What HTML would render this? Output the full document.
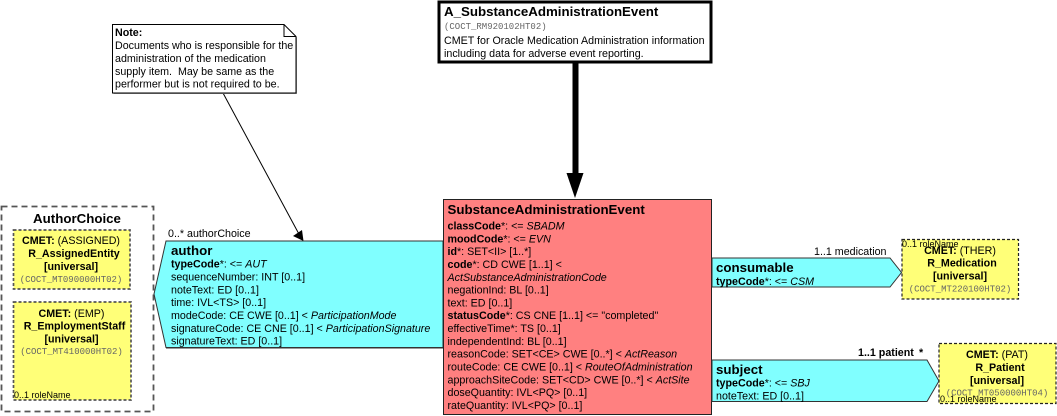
<!DOCTYPE html>
<html><head><meta charset="utf-8"><style>
html,body{margin:0;padding:0;background:#fff;width:1057px;height:416px;overflow:hidden}
svg{display:block}
text{font-family:"Liberation Sans",sans-serif;font-size:10.7px;fill:#000;white-space:pre}
.b{font-weight:bold}.i{font-style:italic}
.t{font-weight:bold;font-size:13.3px}
.m{font-family:"Liberation Mono",monospace;font-size:9px;fill:#666}
.s{font-size:9px}
.c{text-anchor:middle}
</style></head><body>
<svg width="1057" height="416" viewBox="0 0 1057 416" xmlns="http://www.w3.org/2000/svg">
<rect width="1057" height="416" fill="#fff"/>

<!-- connectors -->
<line x1="223" y1="93" x2="300" y2="236" stroke="#000" stroke-width="1"/>
<polygon points="303.5,241 293,236 302,230" fill="#000"/>
<rect x="572.5" y="62" width="6" height="112" fill="#000"/>
<polygon points="566.5,173 583.5,173 575,198" fill="#000"/>

<!-- Note -->
<polygon points="113.5,25.500 285,25.500 297,37.500 297,94 113.5,94" fill="#999"/>
<polygon points="112.5,24.5 284,24.5 296,36.5 296,93 112.5,93" fill="#fff" stroke="#000"/>
<polyline points="284,24.5 284,36.5 296,36.5" fill="none" stroke="#000"/>
<text x="115" y="36" class="b">Note:</text>
<text x="115" y="49">Documents who is responsible for the</text>
<text x="115" y="62">administration of the medication</text>
<text x="115" y="75">supply item.  May be same as the</text>
<text x="115" y="87.500">performer but is not required to be.</text>

<!-- A_ box -->
<rect x="439" y="2" width="272" height="60" fill="#fff" stroke="#000" stroke-width="3"/>
<text x="444" y="16" class="t">A_SubstanceAdministrationEvent</text>
<text x="444" y="29" class="m">(COCT_RM920102HT02)</text>
<text x="444" y="44">CMET for Oracle Medication Administration information</text>
<text x="444" y="57">including data for adverse event reporting.</text>

<!-- AuthorChoice -->
<rect x="1.500" y="206.500" width="152" height="205" fill="#fff" stroke="#555" stroke-width="1.800" stroke-dasharray="6 4"/>
<text x="77" y="223" class="c" style="font-weight:bold;font-size:13.3px">AuthorChoice</text>

<rect x="13.500" y="230" width="116.500" height="59" fill="#ffff78" stroke="#555" stroke-width="1.700" stroke-dasharray="3 2"/>
<text x="71" y="244" class="c"><tspan class="b">CMET:</tspan> (ASSIGNED)</text>
<text x="74" y="257" class="c b">R_AssignedEntity</text>
<text x="71" y="270" class="c b">[universal]</text>
<text x="71" y="282" class="c m">(COCT_MT090000HT02)</text>

<rect x="13.500" y="302" width="117.500" height="98" fill="#ffff78" stroke="#555" stroke-width="1.700" stroke-dasharray="3 2"/>
<text x="71.500" y="317" class="c"><tspan class="b">CMET:</tspan> (EMP)</text>
<text x="74.500" y="329.500" class="c b">R_EmploymentStaff</text>
<text x="71.500" y="342.500" class="c b">[universal]</text>
<text x="71.500" y="354" class="c m">(COCT_MT410000HT02)</text>
<text x="14" y="398" class="s">0..1 roleName</text>

<!-- author -->
<text x="168" y="237">0..* authorChoice</text>
<polygon points="154,294 166,241 443,241 443,347.500 166,347.500" fill="#80ffff" stroke="#333" stroke-width="1"/>
<polyline points="166,348.500 443,348.500" fill="none" stroke="#999"/>
<text x="171" y="255" class="t">author</text>
<text x="171" y="267.700"><tspan class="b">typeCode</tspan>*: &lt;= <tspan class="i">AUT</tspan></text>
<text x="171" y="280.500">sequenceNumber: INT [0..1]</text>
<text x="171" y="293.300">noteText: ED [0..1]</text>
<text x="171" y="306.200">time: IVL&lt;TS&gt; [0..1]</text>
<text x="171" y="319">modeCode: CE CWE [0..1] &lt; <tspan class="i">ParticipationMode</tspan></text>
<text x="171" y="331.800">signatureCode: CE CNE [0..1] &lt; <tspan class="i">ParticipationSignature</tspan></text>
<text x="171" y="344.700">signatureText: ED [0..1]</text>

<!-- SAE -->
<rect x="443.500" y="199.500" width="268" height="215" fill="#ff8080" stroke="#222" stroke-width="1"/>
<text x="447.500" y="214" class="t">SubstanceAdministrationEvent</text>
<text x="447.500" y="229.500"><tspan class="b">classCode</tspan>*: &lt;= <tspan class="i">SBADM</tspan></text>
<text x="447.500" y="242.300"><tspan class="b">moodCode</tspan>*: &lt;= <tspan class="i">EVN</tspan></text>
<text x="447.500" y="255.100"><tspan class="b">id</tspan>*: SET&lt;II&gt; [1..*]</text>
<text x="447.500" y="268"><tspan class="b">code</tspan>*: CD CWE [1..1] &lt;</text>
<text x="447.500" y="280.800" class="i">ActSubstanceAdministrationCode</text>
<text x="447.500" y="293.600">negationInd: BL [0..1]</text>
<text x="447.500" y="306.400">text: ED [0..1]</text>
<text x="447.500" y="319.200"><tspan class="b">statusCode</tspan>*: CS CNE [1..1] &lt;= "completed"</text>
<text x="447.500" y="332.100">effectiveTime*: TS [0..1]</text>
<text x="447.500" y="344.900">independentInd: BL [0..1]</text>
<text x="447.500" y="357.700">reasonCode: SET&lt;CE&gt; CWE [0..*] &lt; <tspan class="i">ActReason</tspan></text>
<text x="447.500" y="370.500">routeCode: CE CWE [0..1] &lt; <tspan class="i">RouteOfAdministration</tspan></text>
<text x="447.500" y="383.300">approachSiteCode: SET&lt;CD&gt; CWE [0..*] &lt; <tspan class="i">ActSite</tspan></text>
<text x="447.500" y="396.200">doseQuantity: IVL&lt;PQ&gt; [0..1]</text>
<text x="447.500" y="409">rateQuantity: IVL&lt;PQ&gt; [0..1]</text>

<!-- consumable -->
<text x="814" y="255">1..1 medication</text>
<polygon points="712,258 890,258 901.500,272.500 890,287 712,287" fill="#80ffff" stroke="#333" stroke-width="1"/>
<text x="716" y="272" class="t">consumable</text>
<text x="716" y="285"><tspan class="b">typeCode</tspan>*: &lt;= <tspan class="i">CSM</tspan></text>

<rect x="902" y="239.500" width="116.500" height="59.500" fill="#ffff78" stroke="#222" stroke-width="1.200" stroke-dasharray="3 2"/>
<text x="902" y="247" class="s">0..1 roleName</text>
<text x="960" y="254" class="c"><tspan class="b">CMET:</tspan> (THER)</text>
<text x="962" y="266.500" class="c b">R_Medication</text>
<text x="960" y="279.500" class="c b">[universal]</text>
<text x="960" y="291.500" class="c m">(COCT_MT220100HT02)</text>

<!-- subject -->
<text x="858" y="356" class="b">1..1 patient</text>
<text x="919" y="356" class="b">*</text>
<polygon points="712,360 927,360 939,381 927,401.500 712,401.500" fill="#80ffff" stroke="#333" stroke-width="1"/>
<text x="716" y="374" class="t">subject</text>
<text x="716" y="386.700"><tspan class="b">typeCode</tspan>*: &lt;= <tspan class="i">SBJ</tspan></text>
<text x="716" y="399.500">noteText: ED [0..1]</text>

<rect x="939" y="343.500" width="117" height="60" fill="#ffff78" stroke="#222" stroke-width="1.200" stroke-dasharray="3 2"/>
<text x="997" y="358" class="c"><tspan class="b">CMET:</tspan> (PAT)</text>
<text x="1000" y="371" class="c b">R_Patient</text>
<text x="997" y="384" class="c b">[universal]</text>
<text x="997" y="395.500" class="c m">(COCT_MT050000HT04)</text>
<text x="940" y="402" class="s">0..1 roleName</text>
</svg>
</body></html>
